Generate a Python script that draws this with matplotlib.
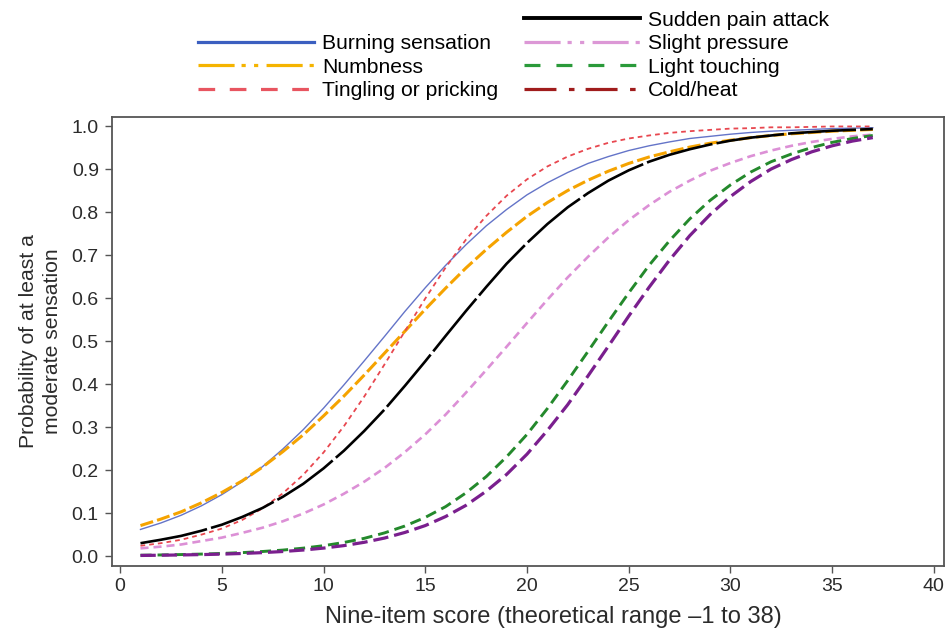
import numpy as np
import matplotlib.pyplot as plt
from matplotlib.lines import Line2D

plt.rcParams['font.family'] = ['Liberation Sans', 'DejaVu Sans']
plt.rcParams['lines.scale_dashes'] = False

# nine-item score
score = list(range(1, 38))

# probability of at least a moderate sensation
burning = [0.062, 0.077, 0.095, 0.117, 0.143, 0.173, 0.208, 0.249, 0.294, 0.344,
           0.398, 0.454, 0.511, 0.569, 0.624, 0.676, 0.724, 0.768, 0.806, 0.840,
           0.868, 0.892, 0.913, 0.929, 0.943, 0.954, 0.963, 0.971, 0.976, 0.981,
           0.985, 0.988, 0.990, 0.992, 0.994, 0.995, 0.996]
numbness = [0.071, 0.086, 0.103, 0.124, 0.148, 0.175, 0.207, 0.243, 0.282, 0.326,
            0.372, 0.421, 0.472, 0.523, 0.574, 0.623, 0.670, 0.713, 0.753, 0.790,
            0.822, 0.850, 0.874, 0.895, 0.913, 0.928, 0.940, 0.951, 0.960, 0.967,
            0.973, 0.978, 0.982, 0.985, 0.988, 0.990, 0.992]
tingling = [0.024, 0.030, 0.038, 0.050, 0.064, 0.084, 0.111, 0.146, 0.189, 0.241,
            0.302, 0.371, 0.446, 0.523, 0.599, 0.671, 0.736, 0.791, 0.838, 0.876,
            0.906, 0.929, 0.947, 0.961, 0.971, 0.978, 0.984, 0.988, 0.991, 0.994,
            0.995, 0.997, 0.997, 0.998, 0.999, 0.999, 0.999]
sudden = [0.030, 0.038, 0.047, 0.059, 0.073, 0.091, 0.112, 0.138, 0.168, 0.204,
          0.245, 0.291, 0.341, 0.396, 0.453, 0.512, 0.570, 0.626, 0.680, 0.728,
          0.772, 0.811, 0.844, 0.873, 0.897, 0.917, 0.933, 0.946, 0.957, 0.966,
          0.973, 0.978, 0.983, 0.986, 0.989, 0.991, 0.993]
slight = [0.018, 0.022, 0.027, 0.035, 0.043, 0.054, 0.066, 0.081, 0.099, 0.120,
          0.145, 0.173, 0.205, 0.242, 0.283, 0.329, 0.380, 0.433, 0.487, 0.542,
          0.596, 0.648, 0.696, 0.741, 0.781, 0.816, 0.847, 0.873, 0.896, 0.914,
          0.930, 0.943, 0.954, 0.963, 0.970, 0.976, 0.980]
light = [0.0020, 0.0027, 0.0036, 0.0047, 0.0062, 0.0081, 0.0107, 0.0140, 0.0185, 0.0242,
         0.0317, 0.0413, 0.054, 0.070, 0.090, 0.115, 0.147, 0.185, 0.231, 0.283,
         0.343, 0.408, 0.476, 0.545, 0.612, 0.676, 0.733, 0.784, 0.827, 0.863,
         0.893, 0.917, 0.935, 0.950, 0.962, 0.971, 0.978]
cold = [0.0015, 0.0020, 0.0027, 0.0035, 0.0046, 0.0061, 0.0081, 0.0107, 0.0141, 0.0186,
        0.0244, 0.0321, 0.042, 0.055, 0.071, 0.092, 0.118, 0.151, 0.190, 0.237,
        0.292, 0.352, 0.419, 0.488, 0.558, 0.625, 0.688, 0.745, 0.794, 0.836,
        0.871, 0.900, 0.922, 0.940, 0.954, 0.965, 0.973]

fig = plt.figure(figsize=(9.46, 6.30), dpi=100)
ax = fig.add_axes([0.1184, 0.1016, 0.8795, 0.7127])

ax.plot(score, burning, color='#6474c8', lw=1.0)
ax.plot(score, numbness, color='#f5a300', lw=2.2, dashes=(9.5, 3))
ax.plot(score, tingling, color='#e8474f', lw=1.3, dashes=(3.4, 2.9))
ax.plot(score, sudden, color='black', lw=1.9, dashes=(49, 3))
ax.plot(score, slight, color='#dc90d6', lw=1.9, dashes=(5.8, 3.6))
ax.plot(score, light, color='#24892c', lw=2.1, dashes=(8, 4.3))
ax.plot(score, cold, color='#7a1f8e', lw=2.3, dashes=(11, 4.3))

ax.set_xlim(-0.4, 40.5)
ax.set_ylim(-0.023, 1.021)
ax.set_xticks(range(0, 41, 5))
ax.set_yticks(np.arange(0, 1.01, 0.1))
ax.set_yticklabels(['%.1f' % v for v in np.arange(0, 1.01, 0.1)])

for s in ax.spines.values():
    s.set_color('#555555')
    s.set_linewidth(1.3)
ax.tick_params(colors='#555555', labelcolor='#2b2b2b', labelsize=14, length=5, width=1)
ax.tick_params(axis='y', pad=4.5)

ax.set_xlabel('Nine-item score (theoretical range \u20131 to 38)', fontsize=17,
              color='#2b2b2b')
ax.xaxis.set_label_coords(0.531, -0.089)
ax.set_ylabel('Probability of at least a\nmoderate sensation', fontsize=15.2,
              color='#2b2b2b', labelpad=7, linespacing=1.35)

# legend: blank slot first so the left column sits lower
handles = [
    Line2D([], [], color='none'),
    Line2D([], [], color='#3b5fc0', lw=2.3),
    Line2D([], [], color='#f5b400', lw=2.3, dashes=(26, 5, 3, 6, 3, 6)),
    Line2D([], [], color='#e85560', lw=2.3, dashes=(12, 10.5)),
    Line2D([], [], color='black', lw=2.8),
    Line2D([], [], color='#dc98d6', lw=2.3, dashes=(26, 5, 3, 6, 3, 6)),
    Line2D([], [], color='#2a9a3a', lw=2.3, dashes=(11.5, 11.5)),
    Line2D([], [], color='#a01c1c', lw=2.3, dashes=(23, 9, 4, 8)),
]
labels = ['', 'Burning sensation', 'Numbness', 'Tingling or pricking',
          'Sudden pain attack', 'Slight pressure', 'Light touching', 'Cold/heat']
fig.legend(handles, labels, ncol=2, loc='upper left', bbox_to_anchor=(0.2093, 0.983),
           frameon=False, fontsize=15.2, handlelength=5.5, handletextpad=0.38,
           columnspacing=1.2, labelspacing=0.21, borderaxespad=0, borderpad=0)

fig.savefig('out.png', dpi=100)
